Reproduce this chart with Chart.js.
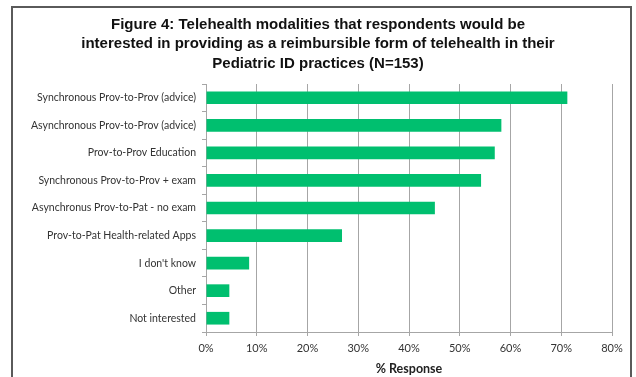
<!DOCTYPE html>
<html>
<head>
<meta charset="utf-8">
<script src="https://cdn.jsdelivr.net/npm/chart.js@4.4.7/dist/chart.umd.min.js"></script>
<style>
  html, body { margin: 0; padding: 0; background: #fff; }
  #wrap { position: relative; width: 636px; height: 377px; }
</style>
</head>
<body>
<div id="wrap"><canvas id="chart" width="636" height="377"></canvas></div>
<script>
// survey answers, top to bottom
const categories = [
    'Synchronous Prov-to-Prov (advice)',
    'Asynchronous Prov-to-Prov (advice)',
    'Prov-to-Prov Education',
    'Synchronous Prov-to-Prov + exam',
    'Asynchronus Prov-to-Pat - no exam',
    'Prov-to-Pat Health-related Apps',
    "I don't know",
    'Other',
    'Not interested'
];
// % of respondents (N=153)
const responses = [71.2, 58.2, 56.9, 54.2, 45.1, 26.8, 8.5, 4.6, 4.6];
const xTicks = [0, 10, 20, 30, 40, 50, 60, 70, 80];

const titleLines = [
    'Figure 4: Telehealth modalities that respondents would be',
    'interested in providing as a reimbursible form of telehealth in their',
    'Pediatric ID practices (N=153)'
];

const labelFont = "Lato, 'Open Sans', sans-serif";
const gridColor = '#a6a6a6';

// outer frame around the whole figure
const framePlugin = {
    id: 'frame',
    afterDraw(chart) {
        const ctx = chart.ctx;
        ctx.save();
        ctx.strokeStyle = '#5a5a5a';
        ctx.lineWidth = 2;
        ctx.strokeRect(12, 7, 619, 420);
        ctx.restore();
    }
};

new Chart(document.getElementById('chart'), {
    type: 'bar',
    data: {
        labels: categories,
        datasets: [{
            data: responses,
            backgroundColor: '#00bf6f',
            borderWidth: 0,
            barPercentage: 0.46,
            categoryPercentage: 1
        }]
    },
    options: {
        indexAxis: 'y',
        responsive: false,
        animation: false,
        layout: { padding: { top: 15, left: 24, right: 24, bottom: 0 } },
        plugins: {
            legend: { display: false },
            tooltip: { enabled: false },
            title: {
                display: true,
                text: titleLines,
                color: '#111',
                font: { family: "'Liberation Sans', Arial, sans-serif", size: 15, weight: 'bold', lineHeight: 1.3 },
                padding: { top: 0, bottom: 10.5 }
            }
        },
        scales: {
            x: {
                min: 0,
                max: 80,
                afterBuildTicks(scale) {
                    scale.ticks = xTicks.map(v => ({ value: v }));
                },
                afterFit(scale) { scale.height = 45; },
                grid: { color: gridColor, tickLength: 4, lineWidth: 1 },
                border: { color: gridColor },
                ticks: {
                    color: '#333',
                    padding: 6,
                    maxRotation: 0,
                    font: { family: labelFont, size: 11 },
                    callback: v => v + '%'
                },
                title: {
                    display: true,
                    text: '% Response',
                    color: '#222',
                    font: { family: labelFont, size: 12.5, weight: 'bold' },
                    padding: { top: 0, bottom: 1 }
                }
            },
            y: {
                afterFit(scale) { scale.width = 182; },
                grid: { drawOnChartArea: false, color: gridColor, tickLength: 4, offset: true },
                border: { color: gridColor },
                ticks: {
                    color: '#333',
                    padding: 6,
                    font: { family: labelFont, size: 10.5 }
                }
            }
        }
    },
    plugins: [framePlugin]
});
</script>
</body>
</html>
